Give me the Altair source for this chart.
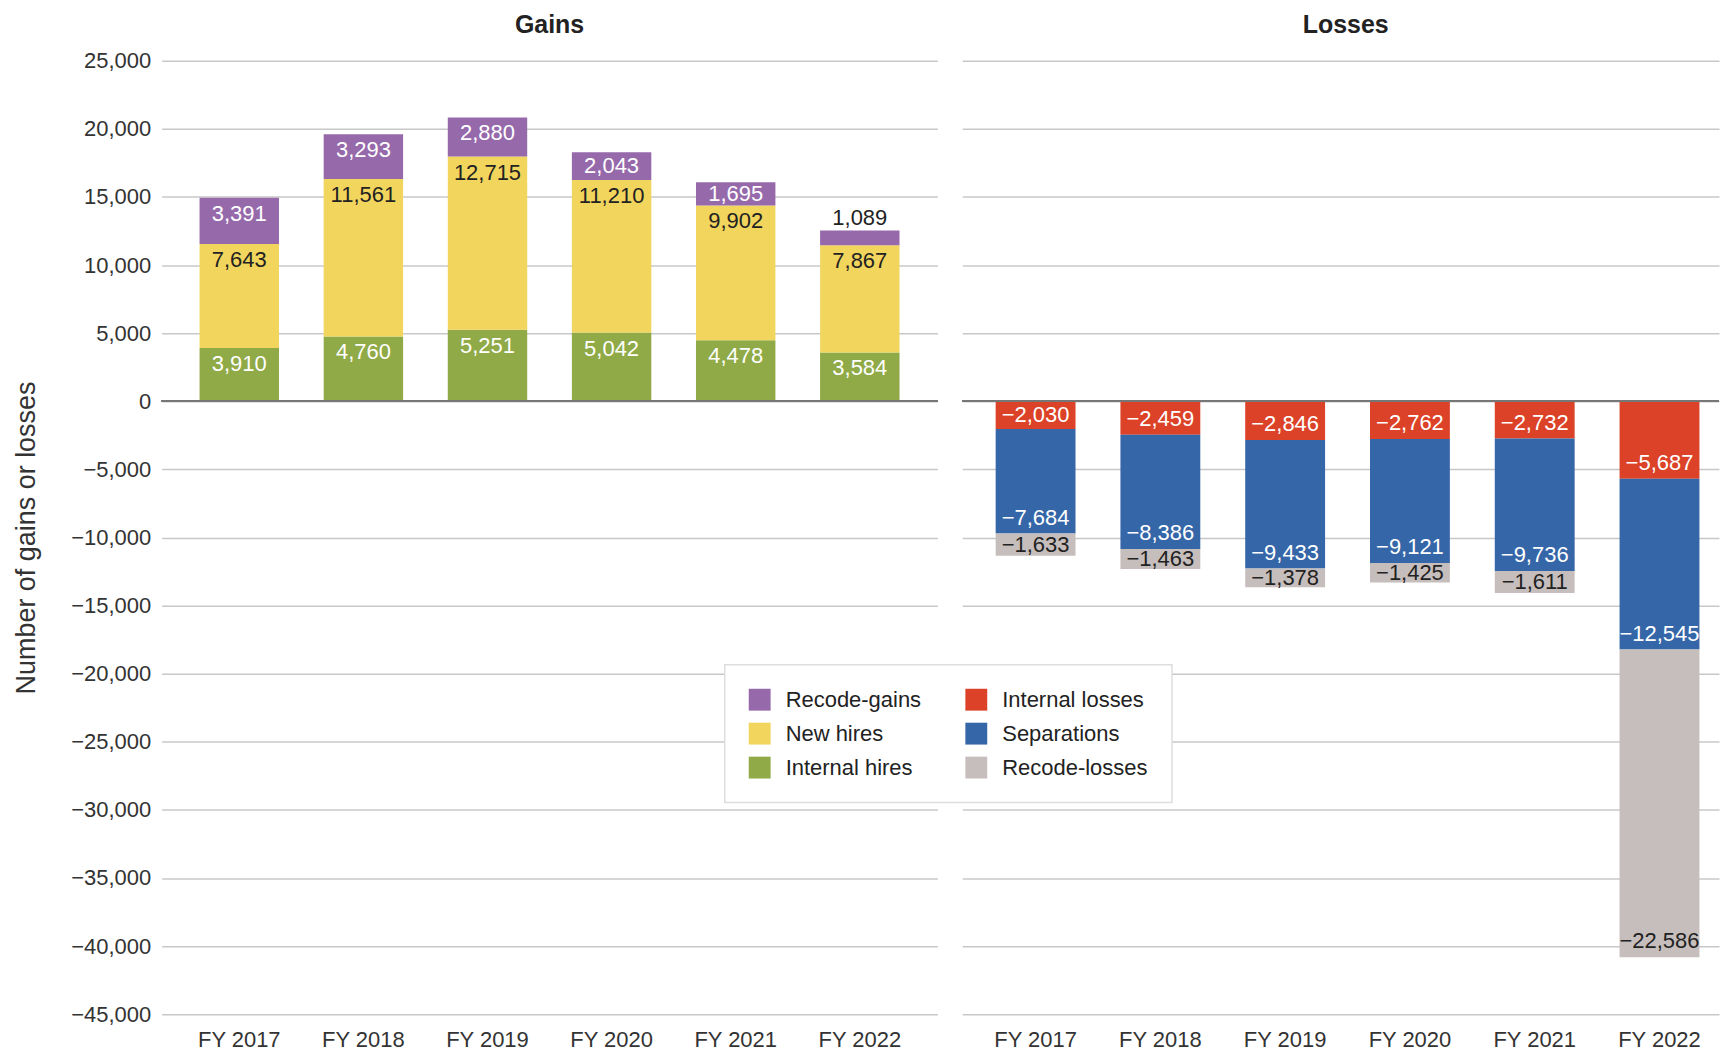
import altair as alt
import pandas as pd

years = ["FY 2017", "FY 2018", "FY 2019", "FY 2020", "FY 2021", "FY 2022"]

internal_hires = [3910, 4760, 5251, 5042, 4478, 3584]
new_hires = [7643, 11561, 12715, 11210, 9902, 7867]
recode_gains = [3391, 3293, 2880, 2043, 1695, 1089]

internal_losses = [-2030, -2459, -2846, -2762, -2732, -5687]
separations = [-7684, -8386, -9433, -9121, -9736, -12545]
recode_losses = [-1633, -1463, -1378, -1425, -1611, -22586]

gain_names = ["Internal hires", "New hires", "Recode-gains"]
loss_names = ["Internal losses", "Separations", "Recode-losses"]

legend_order = ["Recode-gains", "New hires", "Internal hires",
                "Internal losses", "Separations", "Recode-losses"]
color_map = {
    "Recode-gains": "#9669ab",
    "New hires": "#f2d55d",
    "Internal hires": "#8faa46",
    "Internal losses": "#db4227",
    "Separations": "#3566a8",
    "Recode-losses": "#c6bebc",
}
dark_text = {"New hires", "Recode-losses"}

FONT = "Liberation Sans"

rows = []
for panel, names, arrays in [
    ("Gains", gain_names, [internal_hires, new_hires, recode_gains]),
    ("Losses", loss_names, [internal_losses, separations, recode_losses]),
]:
    for i, yr in enumerate(years):
        base = 0
        for name, arr in zip(names, arrays):
            v = arr[i]
            rows.append({
                "panel": panel, "year": yr, "series": name, "value": v,
                "y0": base, "y1": base + v,
            })
            base += v
df = pd.DataFrame(rows)
df["size"] = df["value"].abs()
df["kind"] = ["outside" if s < 1200 else ("mid" if s < 2300 else "end") for s in df["size"]]
df["tcolor"] = [
    "#222222" if (k == "outside" or s in dark_text) else "#ffffff"
    for k, s in zip(df["kind"], df["series"])
]

ydomain = [-45000, 25000]
yvals = list(range(-45000, 25001, 5000))


def panel_chart(name, width, show_axis, x_scale, title_offset, title_dx):
    d = df[df.panel == name]
    base = alt.Chart(d)
    if show_axis:
        yaxis = alt.Axis(
            values=yvals, format=",d", title="Number of gains or losses",
            grid=True, gridColor="#c8c8c8", gridWidth=1.5,
            ticks=False, domain=False, labelPadding=11, titlePadding=30,
        )
    else:
        yaxis = alt.Axis(
            values=yvals, grid=True, gridColor="#c8c8c8", gridWidth=1.5,
            ticks=False, domain=False, labels=False, title=None,
        )
    x = alt.X("year:N", sort=years, scale=x_scale,
              axis=alt.Axis(title=None, labelAngle=0, ticks=False, domain=False,
                            labelPadding=15, grid=False))
    bars = base.mark_bar().encode(
        x=x,
        y=alt.Y("y0:Q", scale=alt.Scale(domain=ydomain, nice=False, zero=False), axis=yaxis),
        y2="y1:Q",
        color=alt.Color("series:N",
                        scale=alt.Scale(domain=legend_order,
                                        range=[color_map[s] for s in legend_order]),
                        legend=alt.Legend(title=None)),
    )
    zero = base.mark_rule(color="#777777", strokeWidth=1.5).encode(y=alt.datum(0))
    sign = 1 if name == "Gains" else -1
    txt = dict(x=x, text=alt.Text("value:Q", format=",d"),
               color=alt.Color("tcolor:N", scale=None))
    end_lbl = base.transform_filter("datum.kind == 'end'").mark_text(
        baseline="middle", dy=16 * sign, fontSize=22, font=FONT
    ).encode(y=alt.Y("y1:Q"), **txt)
    mid_lbl = base.transform_filter("datum.kind == 'mid'").transform_calculate(
        ymid="(datum.y0 + datum.y1) / 2"
    ).mark_text(baseline="middle", fontSize=22, font=FONT).encode(
        y=alt.Y("ymid:Q"), **txt)
    out_lbl = base.transform_filter("datum.kind == 'outside'").mark_text(
        baseline="middle", dy=-13 * sign, fontSize=22, font=FONT
    ).encode(y=alt.Y("y1:Q"), **txt)
    return alt.layer(bars, zero, end_lbl, mid_lbl, out_lbl).properties(
        width=width, height=955,
        title=alt.TitleParams(name, fontSize=25, fontWeight="bold", font=FONT,
                              color="#222222", offset=title_offset, anchor="middle",
                              dx=title_dx),
    )


gains = panel_chart("Gains", 777, True,
                    alt.Scale(paddingInner=0.36, paddingOuter=0.305), 12, 0)
losses = panel_chart("Losses", 758, False,
                     alt.Scale(paddingInner=0.36, paddingOuter=0.212, align=0.63), 23, 5)

chart = alt.hconcat(gains, losses, spacing=23).resolve_scale(
    y="shared"
).properties(
    padding={"left": 12, "top": 12, "right": 0, "bottom": 0}
).configure_view(
    stroke=None
).configure_axis(
    labelFont=FONT, labelFontSize=22, labelColor="#333333",
    titleFont=FONT, titleFontSize=27, titleColor="#333333", titleFontWeight="normal",
).configure_legend(
    orient="none", legendX=564, legendY=605,
    columns=2, direction="vertical",
    symbolType="square", symbolSize=480, symbolStrokeWidth=0,
    labelFont=FONT, labelFontSize=22, labelColor="#222222", labelOffset=15,
    columnPadding=44, rowPadding=12,
    padding=24, fillColor="#ffffff", strokeColor="#dddddd", strokeWidth=1.5,
)

chart.save("out.html", embed_options={"renderer": "svg", "actions": False})
